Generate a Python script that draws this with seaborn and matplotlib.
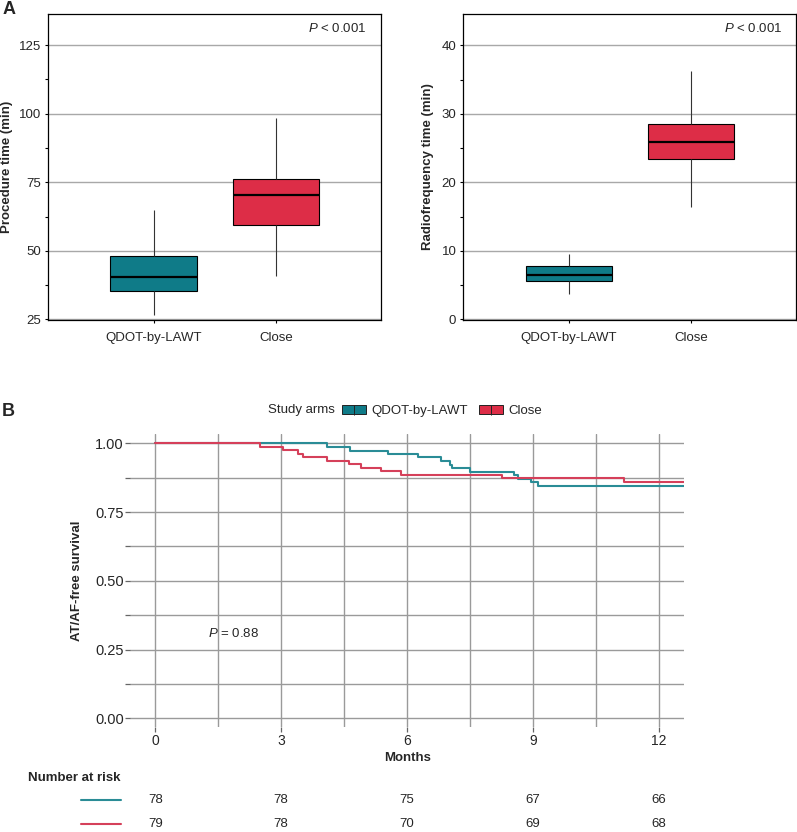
import numpy as np
import pandas as pd
import seaborn as sns
import matplotlib
matplotlib.use("Agg")
from matplotlib import pyplot as plt
from matplotlib.patches import Patch
from matplotlib.lines import Line2D
from matplotlib.ticker import FixedLocator

# Study arms
arms = ["QDOT-by-LAWT", "Close"]

# Panel A: five-number summaries (min, Q1, median, Q3, max)
procedure_qdot = [26.5, 35.5, 40.5, 48.3, 65.0]
procedure_close = [40.8, 59.4, 70.5, 76.3, 98.3]
rf_qdot = [3.7, 5.6, 6.5, 7.8, 9.6]
rf_close = [16.4, 23.4, 25.9, 28.6, 36.3]

# Panel B: Kaplan-Meier step curves (months, survival)
qdot_times = [0, 4.08, 4.64, 5.55, 6.25, 6.80, 7.02, 7.07, 7.49, 8.55, 8.65, 8.96, 9.12, 12.6]
qdot_surv = [1.0, 0.987, 0.974, 0.962, 0.949, 0.936, 0.923, 0.910, 0.897, 0.885, 0.872, 0.859, 0.846, 0.846]
close_times = [0, 2.49, 3.05, 3.40, 3.52, 4.10, 4.62, 4.91, 5.37, 5.85, 8.25, 11.17, 12.6]
close_surv = [1.0, 0.987, 0.975, 0.962, 0.949, 0.937, 0.924, 0.911, 0.899, 0.886, 0.873, 0.861, 0.861]

# Number at risk
risk_months = [0, 3, 6, 9, 12]
risk_qdot = [78, 78, 75, 67, 66]
risk_close = [79, 78, 70, 69, 68]

box_colors = {"QDOT-by-LAWT": "#0f7b88", "Close": "#dd2d47"}
curve_colors = {"QDOT-by-LAWT": "#2a8c96", "Close": "#d5405a"}

sns.set_style("white")
plt.rcParams["font.family"] = ["Liberation Sans", "DejaVu Sans"]
plt.rcParams["mathtext.fontset"] = "custom"
plt.rcParams["mathtext.it"] = "Liberation Sans:italic"
plt.rcParams["mathtext.rm"] = "Liberation Sans"

W, H = 797, 832
fig = plt.figure(figsize=(W / 100, H / 100), dpi=100)


def fig_rect(left, top, right, bottom):
    return [left / W, 1 - bottom / H, (right - left) / W, (bottom - top) / H]


def box_panel(ax, qdot, close, ylim, major, minor, ylabel, label_x, p_x):
    df = pd.DataFrame({"arm": [arms[0]] * len(qdot) + [arms[1]] * len(close),
                       "value": qdot + close})
    sns.boxplot(data=df, x="arm", y="value", hue="arm", palette=box_colors,
                saturation=1, width=0.71, whis=(0, 100), showcaps=False,
                linecolor="black", linewidth=0.8, medianprops={"linewidth": 1.6},
                whiskerprops={"color": "#333333"}, legend=False, ax=ax)
    ax.set_xlim(-0.865, 1.86)
    ax.set_ylim(*ylim)
    ax.yaxis.set_major_locator(FixedLocator(major))
    ax.yaxis.set_minor_locator(FixedLocator(minor))
    ax.yaxis.grid(True, which="major", color="#a8a8a8", lw=1)
    ax.set_axisbelow(True)
    for s in ax.spines.values():
        s.set_visible(True)
        s.set_color("black")
        s.set_linewidth(0.9)
    ax.tick_params(which="both", direction="out", color="black", width=0.8,
                   labelsize=9.5, bottom=True, left=True, length=2.5, pad=2.5)
    ax.tick_params(axis="x", pad=6)
    ax.set_xlabel("")
    ax.set_ylabel(ylabel, fontsize=9.5, fontweight="bold")
    ax.yaxis.set_label_coords(label_x, 0.5)
    ax.text(p_x, 0.951, r"$P$ < 0.001", transform=ax.transAxes, ha="right",
            va="center", fontsize=9.5)


ax1 = fig.add_axes(fig_rect(48, 14, 381, 320))
box_panel(ax1, procedure_qdot, procedure_close, (24.8, 136.3),
          [25, 50, 75, 100, 125], [37.5, 62.5, 87.5, 112.5],
          "Procedure time (min)", -0.105, 0.958)

ax2 = fig.add_axes(fig_rect(463.3, 14, 796, 320))
box_panel(ax2, rf_qdot, rf_close, (-0.1, 44.6),
          [0, 10, 20, 30, 40], [5, 15, 25, 35],
          "Radiofrequency time (min)", -0.088, 0.961)

# Panel B
axb = fig.add_axes(fig_rect(130, 434.3, 684.3, 727.3))
sns.lineplot(x=qdot_times, y=qdot_surv, drawstyle="steps-post", estimator=None,
             color=curve_colors[arms[0]], lw=1.5, ax=axb)
sns.lineplot(x=close_times, y=close_surv, drawstyle="steps-post", estimator=None,
             color=curve_colors[arms[1]], lw=1.5, ax=axb)
axb.set_xlim(-0.6, 12.6)
axb.set_ylim(-0.033, 1.033)
axb.xaxis.set_major_locator(FixedLocator(risk_months))
axb.xaxis.set_minor_locator(FixedLocator([1.5, 4.5, 7.5, 10.5]))
axb.yaxis.set_major_locator(FixedLocator([0, 0.25, 0.5, 0.75, 1.0]))
axb.yaxis.set_minor_locator(FixedLocator([0.125, 0.375, 0.625, 0.875]))
axb.set_yticklabels(["0.00", "0.25", "0.50", "0.75", "1.00"])
axb.grid(True, which="both", color="#9a9a9a", lw=1)
axb.set_axisbelow(True)
for s in axb.spines.values():
    s.set_visible(False)
axb.tick_params(which="both", direction="out", color="#666666", width=0.9,
                length=3.5, bottom=True, left=True)
axb.tick_params(axis="x", which="minor", length=0)
axb.tick_params(axis="x", labelsize=10, pad=1.5)
axb.tick_params(axis="y", labelsize=10.5, pad=1)
axb.set_xlabel("Months", fontsize=9.5, fontweight="bold", labelpad=3)
axb.set_ylabel("AT/AF-free survival", fontsize=9.5, fontweight="bold")
axb.yaxis.set_label_coords(-0.085, 0.5)
axb.text(1.25, 0.31, r"$P$ = 0.88", ha="left", va="center", fontsize=9.5)

# legend
fig.text(268 / W, 1 - 410 / H, "Study arms", ha="left", va="center", fontsize=9.5)
handles = [(Patch(facecolor=box_colors[a], edgecolor="#222222", lw=0.7),
            Line2D([], [], color="#222222", marker="|", linestyle="None",
                   markersize=7, mew=0.7)) for a in arms]
fig.legend(handles, arms, loc="center left", bbox_to_anchor=(342 / W, 1 - 411 / H),
           ncol=2, frameon=False, fontsize=9.5, handlelength=1.8,
           handletextpad=0.4, columnspacing=0.9, borderaxespad=0, borderpad=0)

# number at risk table
fig.text(28 / W, 1 - 778 / H, "Number at risk", ha="left", va="center",
         fontsize=9.5, fontweight="bold")
for row_y, counts, arm in [(800, risk_qdot, arms[0]), (824, risk_close, arms[1])]:
    fig.add_artist(Line2D([81 / W, 121 / W], [1 - row_y / H, 1 - row_y / H],
                          color=curve_colors[arm], lw=1.5))
    for m, n in zip(risk_months, counts):
        axb.annotate(str(n), xy=(m, 1 - row_y / H),
                     xycoords=("data", "figure fraction"),
                     ha="center", va="center", fontsize=9.5, annotation_clip=False)

fig.text(3 / W, 1 - 10 / H, "A", fontsize=13, fontweight="bold", va="center")
fig.text(2 / W, 1 - 412 / H, "B", fontsize=13, fontweight="bold", va="center")

fig.savefig("out.png", dpi=100)
